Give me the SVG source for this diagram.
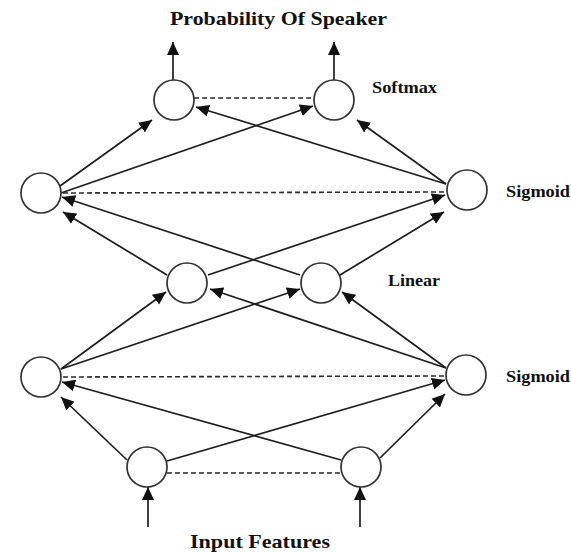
<svg xmlns="http://www.w3.org/2000/svg" width="571" height="552" viewBox="0 0 571 552">
  <style>
    .node circle { fill: #ffffff; stroke: #333333; stroke-width: 1.7; }
    .edge { stroke: #1e1e1e; stroke-width: 1.7; fill: none; marker-end: url(#arrow); }
    .lateral { stroke: #2a2a2a; stroke-width: 1.6; fill: none; stroke-dasharray: 5 3; }
    .title { font-family: "Liberation Serif", "Times New Roman", serif; font-weight: bold; font-size: 19px; fill: #111111; }
    .layer { font-family: "Liberation Serif", "Times New Roman", serif; font-weight: bold; font-size: 16px; fill: #111111; }
  </style>
  <defs>
    <marker id="arrow" markerUnits="userSpaceOnUse" markerWidth="14" markerHeight="13" refX="13" refY="6.5" orient="auto">
      <path d="M0,0.5 L13,6.5 L0,12.5 z" fill="#111111"/>
    </marker>
  </defs>
  <rect width="571" height="552" fill="#ffffff"/>

  <!-- captions -->
  <text class="title" x="278.5" y="25" text-anchor="middle" textLength="217" lengthAdjust="spacingAndGlyphs">Probability Of Speaker</text>
  <text class="title" x="260" y="548" text-anchor="middle" textLength="140" lengthAdjust="spacingAndGlyphs">Input Features</text>
  <text class="layer" x="372" y="93" textLength="65" lengthAdjust="spacingAndGlyphs">Softmax</text>
  <text class="layer" x="506" y="197" textLength="64" lengthAdjust="spacingAndGlyphs">Sigmoid</text>
  <text class="layer" x="388" y="286" textLength="52" lengthAdjust="spacingAndGlyphs">Linear</text>
  <text class="layer" x="506" y="382" textLength="64" lengthAdjust="spacingAndGlyphs">Sigmoid</text>

  <!-- connectors -->
  <g id="connectors">
    <!-- inputs -->
    <line class="edge" x1="148" y1="527" x2="148" y2="487"/>
    <line class="edge" x1="360" y1="527" x2="360" y2="487"/>
    <!-- input -> sigmoid (lower) -->
    <line class="edge" x1="127" y1="460" x2="61" y2="397"/>
    <line class="edge" x1="167" y1="461" x2="445" y2="380"/>
    <line class="edge" x1="341" y1="460" x2="62" y2="382"/>
    <line class="edge" x1="380" y1="458" x2="445" y2="394"/>
    <!-- sigmoid (lower) -> linear -->
    <line class="edge" x1="61" y1="369" x2="166" y2="292"/>
    <line class="edge" x1="61" y1="369" x2="300" y2="289"/>
    <line class="edge" x1="446" y1="368" x2="210" y2="289"/>
    <line class="edge" x1="446" y1="368" x2="342" y2="292"/>
    <!-- linear -> sigmoid (upper) -->
    <line class="edge" x1="167" y1="275" x2="63" y2="212"/>
    <line class="edge" x1="208" y1="275" x2="445" y2="195"/>
    <line class="edge" x1="300" y1="275" x2="62" y2="197"/>
    <line class="edge" x1="340" y1="275" x2="444" y2="212"/>
    <!-- sigmoid (upper) -> softmax -->
    <line class="edge" x1="60" y1="186" x2="152" y2="120"/>
    <line class="edge" x1="61" y1="193" x2="313" y2="106"/>
    <line class="edge" x1="446" y1="184" x2="196" y2="107"/>
    <line class="edge" x1="446" y1="184" x2="357" y2="120"/>
    <!-- outputs -->
    <line class="edge" x1="173" y1="80" x2="173" y2="42"/>
    <line class="edge" x1="334" y1="80" x2="334" y2="42"/>
    <!-- dashed links within each layer -->
    <line class="lateral" x1="194" y1="98" x2="314" y2="98"/>
    <line class="lateral" x1="63" y1="193" x2="446" y2="192"/>
    <line class="lateral" x1="63" y1="377" x2="446" y2="376"/>
    <line class="lateral" x1="167" y1="473" x2="341" y2="473"/>
  </g>

  <!-- nodes -->
  <g id="softmax-1" class="node"><circle cx="174" cy="100" r="20"/></g>
  <g id="softmax-2" class="node"><circle cx="334" cy="100" r="20"/></g>
  <g id="sigmoid-upper-1" class="node"><circle cx="41" cy="193" r="20"/></g>
  <g id="sigmoid-upper-2" class="node"><circle cx="467" cy="190" r="20"/></g>
  <g id="linear-1" class="node"><circle cx="187" cy="283" r="20"/></g>
  <g id="linear-2" class="node"><circle cx="321" cy="283" r="20"/></g>
  <g id="sigmoid-lower-1" class="node"><circle cx="41" cy="377" r="20"/></g>
  <g id="sigmoid-lower-2" class="node"><circle cx="466" cy="375" r="20"/></g>
  <g id="input-1" class="node"><circle cx="147" cy="467" r="20"/></g>
  <g id="input-2" class="node"><circle cx="361" cy="467" r="20"/></g>
</svg>
